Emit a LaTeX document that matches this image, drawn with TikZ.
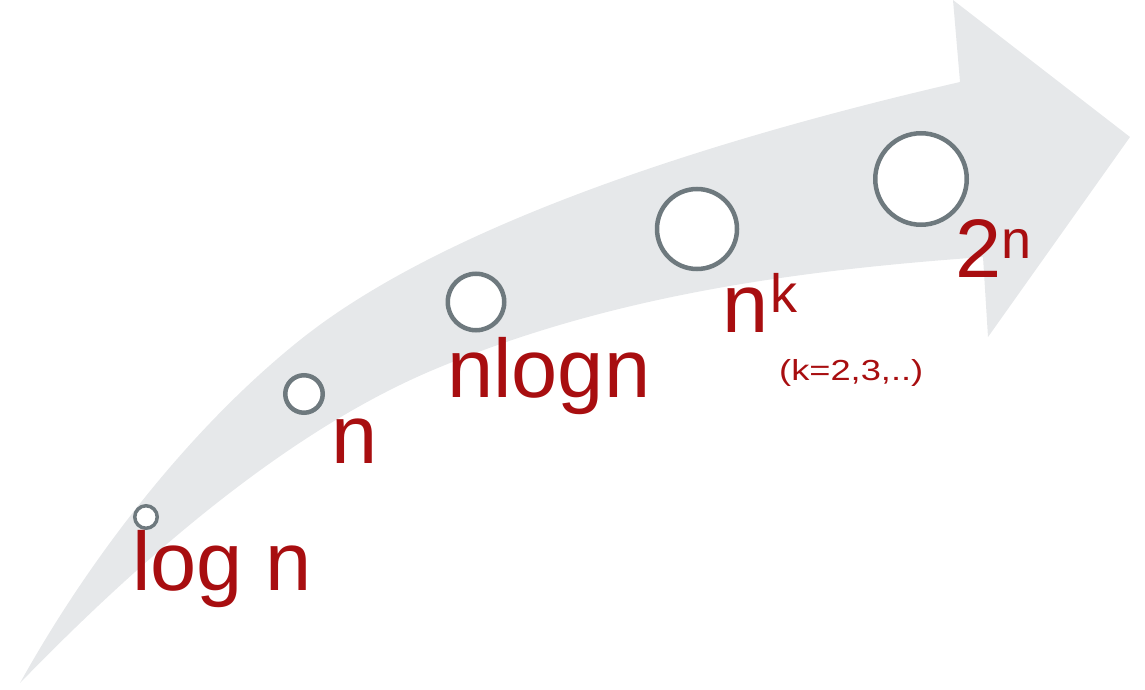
\documentclass[tikz,border=0pt]{standalone}
\usepackage{fontspec}
\setmainfont{Liberation Sans}
\usepackage{xcolor}
\definecolor{bandgray}{RGB}{230,232,234}
\definecolor{ringgray}{RGB}{110,121,126}
\definecolor{labelred}{RGB}{168,14,16}

\begin{document}
\begin{tikzpicture}[
  x=1pt, y=-1pt,
  ring/.style={circle,draw=ringgray,line width=4.5pt,fill=white,inner sep=0pt},
  lbl/.style={text=labelred,inner sep=0pt,anchor=base west,
              font=\fontsize{83}{83}\selectfont},
  note/.style={lbl,font=\fontsize{29}{29}\selectfont}
]
\useasboundingbox (0,0) rectangle (1145,690);

% ---- growth arrow ----
\fill[bandgray] (20,683)
  .. controls (90,557) and (190,428) .. (300,340)
  .. controls (450,220) and (730,135) .. (960,82)
  -- (953,0) -- (1130,137) -- (988,337) -- (983,257)
  .. controls (803,270) and (613,294) .. (433,370)
  .. controls (293,429) and (150,549) .. (20,683)
  -- cycle;

% ---- rings ----
\node[ring,line width=3.5pt,minimum size=22.5pt] (c1) at (146,517) {};
\node[ring,minimum size=37.5pt] (c2) at (304,394) {};
\node[ring,minimum size=56.5pt] (c3) at (476,302) {};
\node[ring,minimum size=80pt] (c4) at (697,229) {};
\node[ring,minimum size=91.5pt] (c5) at (921,179) {};

% ---- labels ----
\node[lbl] (logn) at (132,590) {log n};
\node[lbl] (n) at (331,463) {n};
\node[lbl] (nlogn) at (447,397) {nlogn};
\node[lbl] (nk) at (722,332) {n\raisebox{20pt}{\fontsize{54}{54}\selectfont\kern2pt k}};
\node[note] (krange) at (779,380) {\scalebox{1.25}[1]{(k=2,3,..)}};
\node[lbl] (twon) at (955,277) {2\raisebox{19pt}{\fontsize{54}{54}\selectfont n}};

\end{tikzpicture}
\end{document}
